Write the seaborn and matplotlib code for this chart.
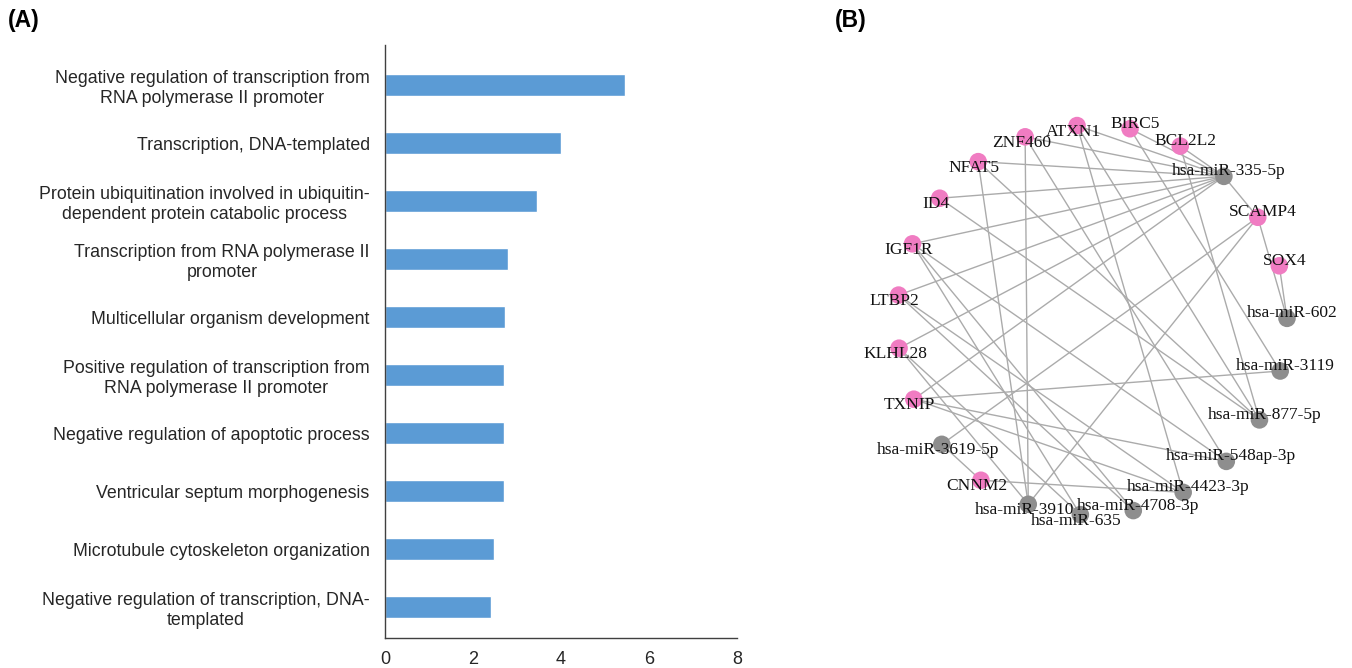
import numpy as np
import pandas as pd
import matplotlib
matplotlib.use("Agg")
import matplotlib.pyplot as plt
import seaborn as sns

# ---------------- data ----------------
go_terms = [
    "Negative regulation of transcription from\nRNA polymerase II promoter",
    "Transcription, DNA-templated",
    "Protein ubiquitination involved in ubiquitin-\ndependent protein catabolic process",
    "Transcription from RNA polymerase II\npromoter",
    "Multicellular organism development",
    "Positive regulation of transcription from\nRNA polymerase II promoter",
    "Negative regulation of apoptotic process",
    "Ventricular septum morphogenesis",
    "Microtubule cytoskeleton organization",
    "Negative regulation of transcription, DNA-\ntemplated",
]
enrichment = [5.45, 4.0, 3.45, 2.8, 2.73, 2.7, 2.7, 2.7, 2.48, 2.41]
x_ticks = [0, 2, 4, 6, 8]

genes = ["ATXN1", "BIRC5", "BCL2L2", "SCAMP4", "SOX4", "CNNM2", "TXNIP",
         "KLHL28", "LTBP2", "IGF1R", "ID4", "NFAT5", "ZNF460"]
mirnas = ["hsa-miR-335-5p", "hsa-miR-602", "hsa-miR-3119", "hsa-miR-877-5p",
          "hsa-miR-548ap-3p", "hsa-miR-4423-3p", "hsa-miR-4708-3p",
          "hsa-miR-635", "hsa-miR-3910", "hsa-miR-3619-5p"]

# node order around the circle, clockwise from the top
ring_order = ["ATXN1", "BIRC5", "BCL2L2", "hsa-miR-335-5p", "SCAMP4", "SOX4",
              "hsa-miR-602", "hsa-miR-3119", "hsa-miR-877-5p", "hsa-miR-548ap-3p",
              "hsa-miR-4423-3p", "hsa-miR-4708-3p", "hsa-miR-635", "hsa-miR-3910",
              "CNNM2", "hsa-miR-3619-5p", "TXNIP", "KLHL28", "LTBP2", "IGF1R",
              "ID4", "NFAT5", "ZNF460"]

edges = [
    ("ATXN1", "hsa-miR-335-5p"), ("BIRC5", "hsa-miR-335-5p"),
    ("BCL2L2", "hsa-miR-335-5p"), ("ZNF460", "hsa-miR-335-5p"),
    ("NFAT5", "hsa-miR-335-5p"), ("ID4", "hsa-miR-335-5p"),
    ("IGF1R", "hsa-miR-335-5p"), ("LTBP2", "hsa-miR-335-5p"),
    ("KLHL28", "hsa-miR-335-5p"), ("TXNIP", "hsa-miR-335-5p"),
    ("SCAMP4", "hsa-miR-335-5p"),
    ("SCAMP4", "hsa-miR-602"), ("SOX4", "hsa-miR-602"),
    ("TXNIP", "hsa-miR-3119"), ("BIRC5", "hsa-miR-3119"),
    ("ATXN1", "hsa-miR-877-5p"), ("BCL2L2", "hsa-miR-877-5p"),
    ("ID4", "hsa-miR-877-5p"), ("NFAT5", "hsa-miR-877-5p"),
    ("ZNF460", "hsa-miR-548ap-3p"), ("TXNIP", "hsa-miR-548ap-3p"),
    ("IGF1R", "hsa-miR-548ap-3p"),
    ("ATXN1", "hsa-miR-4423-3p"), ("LTBP2", "hsa-miR-4423-3p"),
    ("CNNM2", "hsa-miR-4423-3p"), ("TXNIP", "hsa-miR-4423-3p"),
    ("IGF1R", "hsa-miR-4708-3p"), ("LTBP2", "hsa-miR-4708-3p"),
    ("IGF1R", "hsa-miR-635"), ("KLHL28", "hsa-miR-635"),
    ("ZNF460", "hsa-miR-3910"), ("NFAT5", "hsa-miR-3910"),
    ("SCAMP4", "hsa-miR-3910"), ("KLHL28", "hsa-miR-3910"),
    ("SCAMP4", "hsa-miR-3619-5p"), ("CNNM2", "hsa-miR-3619-5p"),
]

# ---------------- style ----------------
sns.set_style("white")
plt.rcParams["font.family"] = ["Liberation Sans", "DejaVu Sans"]

W, H = 1352, 668
fig = plt.figure(figsize=(W / 100, H / 100), dpi=100)

BAR_BLUE = "#5B9BD5"
AXIS_GREY = "#404040"
TEXT_DARK = "#262626"

# ---------------- panel A: GO terms bar chart ----------------
ax = fig.add_axes([385 / W, 30 / H, 352 / W, 593 / H])
bar_df = pd.DataFrame({"term": go_terms, "score": enrichment})
sns.barplot(data=bar_df, x="score", y="term", orient="h", color=BAR_BLUE,
            saturation=1, width=0.38, ax=ax)
ax.set_xlim(0, 8)
ax.set_ylim(9.53, -0.69)
ax.set_xticks(x_ticks)
ax.set_xticklabels([str(t) for t in x_ticks])
ax.set_xlabel("")
ax.set_ylabel("")
for side in ("top", "right"):
    ax.spines[side].set_visible(False)
for side in ("left", "bottom"):
    ax.spines[side].set_color(AXIS_GREY)
    ax.spines[side].set_linewidth(1.0)
ax.tick_params(axis="y", length=0, pad=11, labelsize=12.8, labelcolor=TEXT_DARK)
ax.tick_params(axis="x", length=0, pad=9, labelsize=13, labelcolor=TEXT_DARK)
for lab in ax.get_yticklabels():
    lab.set_multialignment("center")
ax.grid(False)

fig.text(8 / W, 1 - 9 / H, "(A)", fontsize=16.5, fontweight="bold",
         ha="left", va="top", color="black")
fig.text(835 / W, 1 - 9 / H, "(B)", fontsize=16.5, fontweight="bold",
         ha="left", va="top", color="black")

# ---------------- panel B: miRNA-gene network ----------------
cx, cy, radius = 1092, 320, 195
ax2 = fig.add_axes([811 / W, 0, (W - 811) / W, 1])
ax2.set_xlim((811 - cx) / radius, (W - cx) / radius)
ax2.set_ylim((cy - H) / radius, cy / radius)
ax2.axis("off")

n = len(ring_order)
start_deg = -4.4
theta = np.deg2rad(start_deg + 360.0 * np.arange(n) / n)
nodes = pd.DataFrame({
    "name": ring_order,
    "x": np.sin(theta),
    "y": np.cos(theta),
    "kind": ["gene" if nm in genes else "miRNA" for nm in ring_order],
    "angle": (start_deg + 360.0 * np.arange(n) / n) % 360,
})
pos = {r.name: (r.x, r.y) for r in nodes.itertuples()}

for g, m in edges:
    (x0, y0), (x1, y1) = pos[g], pos[m]
    ax2.plot([x0, x1], [y0, y1], color="#ABABAB", lw=1.0, zorder=1,
             solid_capstyle="round")

sns.scatterplot(data=nodes, x="x", y="y", hue="kind",
                palette={"gene": "#F07CC2", "miRNA": "#8E8E8E"},
                s=160, linewidth=0, legend=False, ax=ax2, zorder=3)
ax2.set_xlabel("")
ax2.set_ylabel("")

for r in nodes.itertuples():
    if r.angle < 180:
        off = (5, 5)
    else:
        off = (-4, -6)
    ax2.annotate(r.name, (r.x, r.y), xytext=off, textcoords="offset pixels",
                 ha="center", va="center", fontsize=12.5,
                 family=["Liberation Serif", "DejaVu Serif"], color="#111111",
                 zorder=4)

fig.savefig("out.png", dpi=100)
